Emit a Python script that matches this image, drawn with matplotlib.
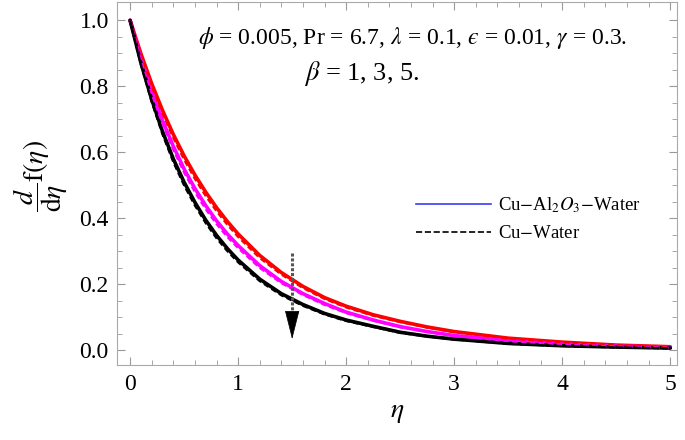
import numpy as np
import matplotlib.pyplot as plt

plt.rcParams['font.family'] = ['Liberation Serif', 'DejaVu Serif']
plt.rcParams['mathtext.fontset'] = 'stix'

# eta grid and f'(eta), beta = 1, 3, 5
eta = [0, 0.1, 0.2, 0.3, 0.4, 0.5, 0.6, 0.7, 0.8, 0.9, 1.0,
       1.2, 1.4, 1.6, 1.8, 2.0, 2.25, 2.5, 2.75, 3.0, 3.5, 4.0, 4.5, 5.0]
# Cu-Al2O3-Water (solid)
hyb_b1 = [1.0, 0.899, 0.808, 0.727, 0.654, 0.589, 0.531, 0.479, 0.432, 0.390, 0.352,
          0.287, 0.235, 0.193, 0.159, 0.133, 0.107, 0.087, 0.070, 0.056, 0.036, 0.024, 0.015, 0.010]
hyb_b3 = [1.0, 0.885, 0.784, 0.696, 0.618, 0.549, 0.490, 0.438, 0.392, 0.352, 0.317,
          0.256, 0.208, 0.171, 0.141, 0.115, 0.091, 0.071, 0.056, 0.044, 0.028, 0.018, 0.012, 0.008]
hyb_b5 = [1.0, 0.871, 0.760, 0.663, 0.580, 0.509, 0.448, 0.394, 0.348, 0.308, 0.273,
          0.215, 0.171, 0.138, 0.111, 0.091, 0.072, 0.054, 0.042, 0.033, 0.020, 0.013, 0.009, 0.006]
# Cu-Water (dashed)
cu_b1 = [1.0, 0.895, 0.800, 0.717, 0.643, 0.577, 0.519, 0.467, 0.421, 0.380, 0.343,
         0.279, 0.229, 0.188, 0.155, 0.129, 0.104, 0.085, 0.068, 0.054, 0.035, 0.023, 0.015, 0.009]
cu_b3 = [1.0, 0.880, 0.776, 0.686, 0.607, 0.538, 0.479, 0.427, 0.382, 0.343, 0.309,
         0.249, 0.203, 0.167, 0.137, 0.112, 0.089, 0.069, 0.055, 0.043, 0.027, 0.017, 0.011, 0.007]
cu_b5 = [1.0, 0.866, 0.752, 0.654, 0.570, 0.499, 0.438, 0.385, 0.339, 0.300, 0.266,
         0.209, 0.166, 0.134, 0.108, 0.088, 0.070, 0.052, 0.041, 0.032, 0.019, 0.012, 0.008, 0.005]
colors = ['#ff0000', '#ff00ff', '#000000']

fig = plt.figure(figsize=(6.85, 4.4), dpi=100)
ax = fig.add_axes([0.171, 0.17, 0.817, 0.825])

for y, c in zip([hyb_b1, hyb_b3, hyb_b5], colors):
    ax.plot(eta, y, color=c, lw=2.6, solid_joinstyle='round', solid_capstyle='round')
for y, c in zip([cu_b1, cu_b3, cu_b5], colors):
    ax.plot(eta, y, color=c, lw=1.6, ls=(0, (2.5, 1.5)), dash_joinstyle='round')

# legend entries
ax.plot([], [], color='#3a3aff', lw=1.2, label=r'Cu$-$Al$_2O_3$$-$Water')
ax.plot([], [], color='black', lw=1.2, ls='--', label=r'Cu$-$Water')
ax.legend(loc='upper left', bbox_to_anchor=(0.503, 0.515), frameon=False,
          fontsize=13.5, handlelength=4.0, handletextpad=0.4, labelspacing=0.55)

# arrow showing increasing beta
ax.plot([1.5, 1.5], [0.295, 0.1], color='#555555', lw=2.2, ls=(0, (1, 0.6)))
ax.annotate('', xy=(1.5, 0.033), xytext=(1.5, 0.11),
            arrowprops=dict(arrowstyle='-|>,head_length=0.95,head_width=0.24',
                            color='black', lw=0.5, mutation_scale=20,
                            shrinkA=0, shrinkB=0))

params = (r'$\phi$ = 0.005, Pr = 6.7, $\lambda$ = 0.1, ' + '$\u03f5$'
          + r' = 0.01, $\gamma$ = 0.3.')
ax.text(2.61, 0.945, params, ha='center', va='center', fontsize=17)
ax.text(2.14, 0.84, r'$\beta$ = 1, 3, 5.', ha='center', va='center', fontsize=19)

ax.set_xlim(-0.12, 5.06)
ax.set_ylim(-0.046, 1.055)
ax.set_xticks([0, 1, 2, 3, 4, 5])
ax.set_yticks([0.0, 0.2, 0.4, 0.6, 0.8, 1.0])
ax.set_yticklabels(['0.0', '0.2', '0.4', '0.6', '0.8', '1.0'])
ax.set_xticks(np.arange(0, 5.01, 0.2), minor=True)
ax.set_yticks(np.arange(0, 1.01, 0.05), minor=True)
ax.tick_params(which='both', direction='in', top=True, right=True,
               color='#999999', labelsize=17, pad=6)
ax.tick_params(which='major', length=6, width=0.8)
ax.tick_params(which='minor', length=3.5, width=0.6)
for s in ax.spines.values():
    s.set_color('#aaaaaa')
    s.set_linewidth(0.8)

ax.set_xlabel(r'$\eta$', fontsize=20, labelpad=4)
ax.set_ylabel(r'$\dfrac{d}{\mathrm{d}\eta}\mathrm{f}(\eta)$', fontsize=20)
ax.yaxis.set_label_coords(-0.085, 0.52)

fig.savefig('out.png', dpi=100)
